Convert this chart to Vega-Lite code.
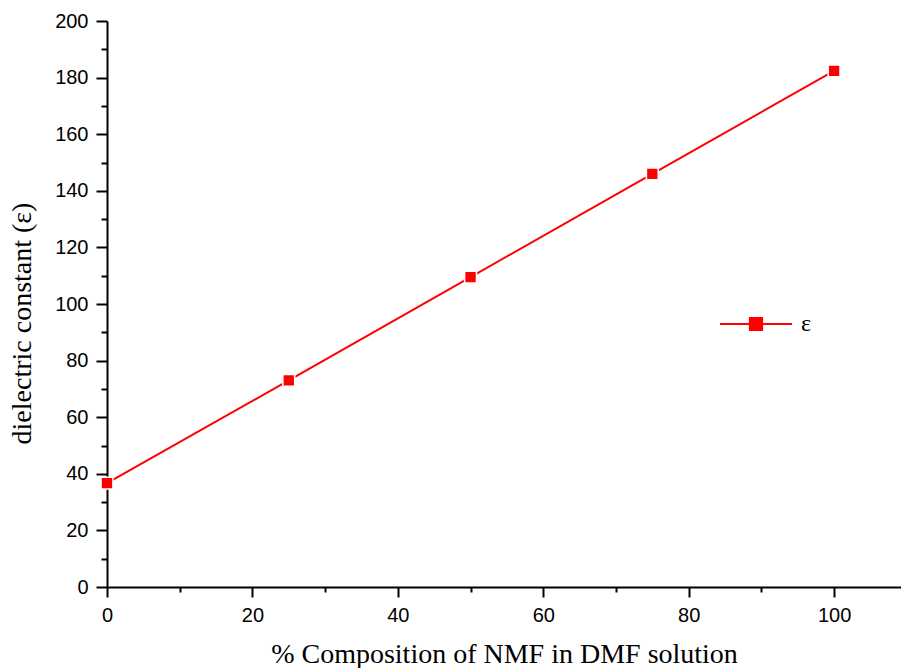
{
  "$schema": "https://vega.github.io/schema/vega-lite/v6.json",
  "autosize": "none",
  "width": 794,
  "height": 566,
  "padding": {"left": 107, "top": 21, "right": 0, "bottom": 81},
  "background": "white",
  "config": {
    "view": {"stroke": null},
    "axis": {
      "grid": false,
      "domainColor": "black",
      "domainWidth": 2,
      "tickColor": "black",
      "tickWidth": 2,
      "labelFont": "Liberation Sans",
      "labelFontSize": 20,
      "labelColor": "black",
      "titleFont": "Liberation Serif",
      "titleFontSize": 28,
      "titleFontWeight": "normal",
      "titleColor": "black"
    }
  },
  "data": {
    "values": [
      {"composition": 0, "epsilon": 36.7, "series": "ε"},
      {"composition": 25, "epsilon": 73.0, "series": "ε"},
      {"composition": 50, "epsilon": 109.5, "series": "ε"},
      {"composition": 75, "epsilon": 146.0, "series": "ε"},
      {"composition": 100, "epsilon": 182.4, "series": "ε"}
    ]
  },
  "encoding": {
    "x": {
      "field": "composition",
      "type": "quantitative",
      "scale": {"domain": [0, 109.2], "nice": false, "zero": false},
      "axis": {
        "title": "% Composition of NMF in DMF solution",
        "values": [0, 10, 20, 30, 40, 50, 60, 70, 80, 90, 100],
        "labelExpr": "datum.value % 20 === 0 ? datum.label : ''",
        "tickSize": {"condition": {"test": "datum.value % 20 === 0", "value": 10}, "value": 5},
        "labelPadding": 8,
        "titlePadding": 15,
        "labelFlush": false
      }
    },
    "y": {
      "field": "epsilon",
      "type": "quantitative",
      "scale": {"domain": [0, 200], "nice": false},
      "axis": {
        "title": "dielectric constant (ε)",
        "values": [0, 10, 20, 30, 40, 50, 60, 70, 80, 90, 100, 110, 120, 130, 140, 150, 160, 170, 180, 190, 200],
        "labelExpr": "datum.value % 20 === 0 ? datum.label : ''",
        "tickSize": {"condition": {"test": "datum.value % 20 === 0", "value": 11}, "value": 6},
        "labelPadding": 8,
        "titlePadding": 18,
        "titleY": 302,
        "labelFlush": false
      }
    }
  },
  "layer": [
    {
      "mark": {"type": "line", "color": "#ff0000", "strokeWidth": 2}
    },
    {
      "mark": {"type": "point", "shape": "square", "filled": true, "size": 140, "stroke": "white", "strokeWidth": 1.5, "strokeOpacity": 1, "opacity": 1},
      "encoding": {
        "color": {
          "field": "series",
          "type": "nominal",
          "scale": {"range": ["#ff0000"]},
          "legend": {
            "title": null,
            "orient": "none",
            "legendX": 612,
            "legendY": 266,
            "symbolType": "M-1,0L1,0M-0.17,-0.17L0.17,-0.17L0.17,0.17L-0.17,0.17Z",
            "symbolSize": 5184,
            "symbolFillColor": "#ff0000",
            "symbolStrokeColor": "#ff0000",
            "symbolStrokeWidth": 2,
            "symbolOpacity": 1,
            "labelFont": "Liberation Serif",
            "labelFontSize": 24,
            "labelColor": "black",
            "labelOffset": 8
          }
        }
      }
    }
  ]
}
